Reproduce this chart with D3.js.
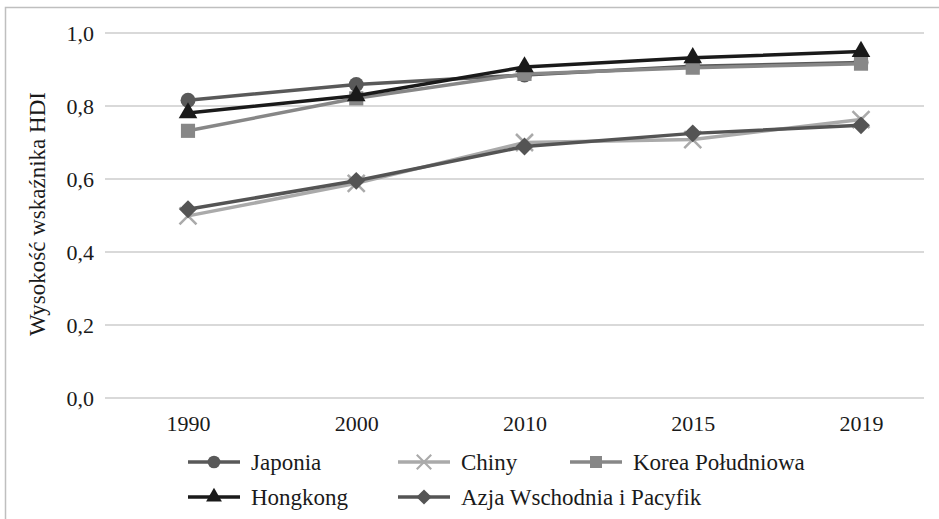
<!DOCTYPE html>
<meta charset="utf-8">
<body style="margin:0">
<script src="https://d3js.org/d3.v7.min.js"></script>
<script>
  // data
  var years = ["1990", "2000", "2010", "2015", "2019"];
  var japonia = [0.816, 0.859, 0.885, 0.909, 0.919];
  var chiny = [0.499, 0.588, 0.700, 0.708, 0.763];
  var korea = [0.732, 0.821, 0.888, 0.905, 0.916];
  var hongkong = [0.781, 0.828, 0.907, 0.932, 0.949];
  var azja = [0.517, 0.595, 0.689, 0.725, 0.747];
  var yTicks = [0, 0.2, 0.4, 0.6, 0.8, 1.0];

  var series = [
    { name: "Japonia", values: japonia, color: "#595959", symbol: "circle" },
    { name: "Chiny", values: chiny, color: "#aaaaaa", symbol: "cross" },
    { name: "Korea Południowa", values: korea, color: "#878787", symbol: "square" },
    { name: "Hongkong", values: hongkong, color: "#1a1a1a", symbol: "triangle" },
    { name: "Azja Wschodnia i Pacyfik", values: azja, color: "#545454", symbol: "diamond" }
  ];

  var width = 939, height = 519;
  var txt = "#1a1a1a";
  var svg = d3.select("body").append("svg")
    .attr("width", width).attr("height", height);

  // frame
  svg.append("rect")
    .attr("x", 5.5).attr("y", 7.5)
    .attr("width", 960).attr("height", 540)
    .attr("fill", "none").attr("stroke", "#bfbfbf").attr("stroke-width", 1.5);

  var x = d3.scalePoint().domain(years).range([188, 861]);
  var y = d3.scaleLinear().domain([0, 1]).range([398, 33]);

  // gridlines
  svg.append("g")
    .selectAll("line").data(yTicks).enter().append("line")
    .attr("x1", 105).attr("x2", 924)
    .attr("y1", function (d) { return y(d); })
    .attr("y2", function (d) { return y(d); })
    .attr("stroke", "#d9d9d9").attr("stroke-width", 2);

  // y axis labels
  var fmt = function (d) { return d3.format(".1f")(d).replace(".", ","); };
  svg.append("g").attr("transform", "translate(94,0)")
    .call(d3.axisLeft(y).tickValues(yTicks).tickFormat(fmt).tickSize(0).tickPadding(0))
    .attr("font-family", "Liberation Serif")
    .attr("font-size", 22)
    .call(function (g) { g.select(".domain").remove(); })
    .selectAll("text").attr("fill", txt);

  // x axis labels
  svg.append("g").attr("transform", "translate(0,413)")
    .call(d3.axisBottom(x).tickSize(0).tickPadding(0))
    .attr("font-family", "Liberation Serif")
    .attr("font-size", 22)
    .call(function (g) { g.select(".domain").remove(); })
    .selectAll("text")
    .attr("dy", "0.8em").attr("fill", txt);

  // y axis title
  svg.append("text")
    .attr("transform", "translate(45,214) rotate(-90)")
    .attr("text-anchor", "middle")
    .attr("font-family", "Liberation Serif")
    .attr("font-size", 23)
    .attr("fill", txt)
    .text("Wysokość wskaźnika HDI");

  var symbols = {
    circle: d3.symbol().type(d3.symbolCircle).size(175),
    cross: d3.symbol().type(d3.symbolX).size(190),
    square: d3.symbol().type(d3.symbolSquare).size(200),
    triangle: d3.symbol().type(d3.symbolTriangle).size(150),
    diamond: d3.symbol().type(d3.symbolSquare).size(160)
  };

  function drawMarker(g, s) {
    var p = g.append("path").attr("d", symbols[s.symbol]());
    if (s.symbol === "cross") {
      p.attr("fill", "none").attr("stroke", s.color).attr("stroke-width", 2.5);
    } else {
      p.attr("fill", s.color);
    }
    if (s.symbol === "diamond") p.attr("transform", "rotate(45)");
    return p;
  }

  var line = d3.line()
    .x(function (d, i) { return x(years[i]); })
    .y(function (d) { return y(d); });

  series.forEach(function (s) {
    var g = svg.append("g");
    g.append("path").attr("d", line(s.values))
      .attr("fill", "none").attr("stroke", s.color).attr("stroke-width", 3.5);
    s.values.forEach(function (v, i) {
      var m = g.append("g").attr("transform", "translate(" + x(years[i]) + "," + y(v) + ")");
      drawMarker(m, s);
    });
  });

  // legend
  var legendPos = [[188, 462], [398, 462], [570, 462], [188, 497], [398, 497]];
  series.forEach(function (s, i) {
    var g = svg.append("g")
      .attr("transform", "translate(" + legendPos[i][0] + "," + legendPos[i][1] + ")");
    g.append("line").attr("x1", 0).attr("x2", 52)
      .attr("stroke", s.color).attr("stroke-width", 3.5);
    drawMarker(g.append("g").attr("transform", "translate(26,0) scale(0.85)"), s);
    g.append("text").attr("x", 63).attr("dy", "0.35em")
      .attr("font-family", "Liberation Serif")
      .attr("font-size", 23)
      .attr("fill", txt)
      .text(s.name);
  });
</script>
</body>
